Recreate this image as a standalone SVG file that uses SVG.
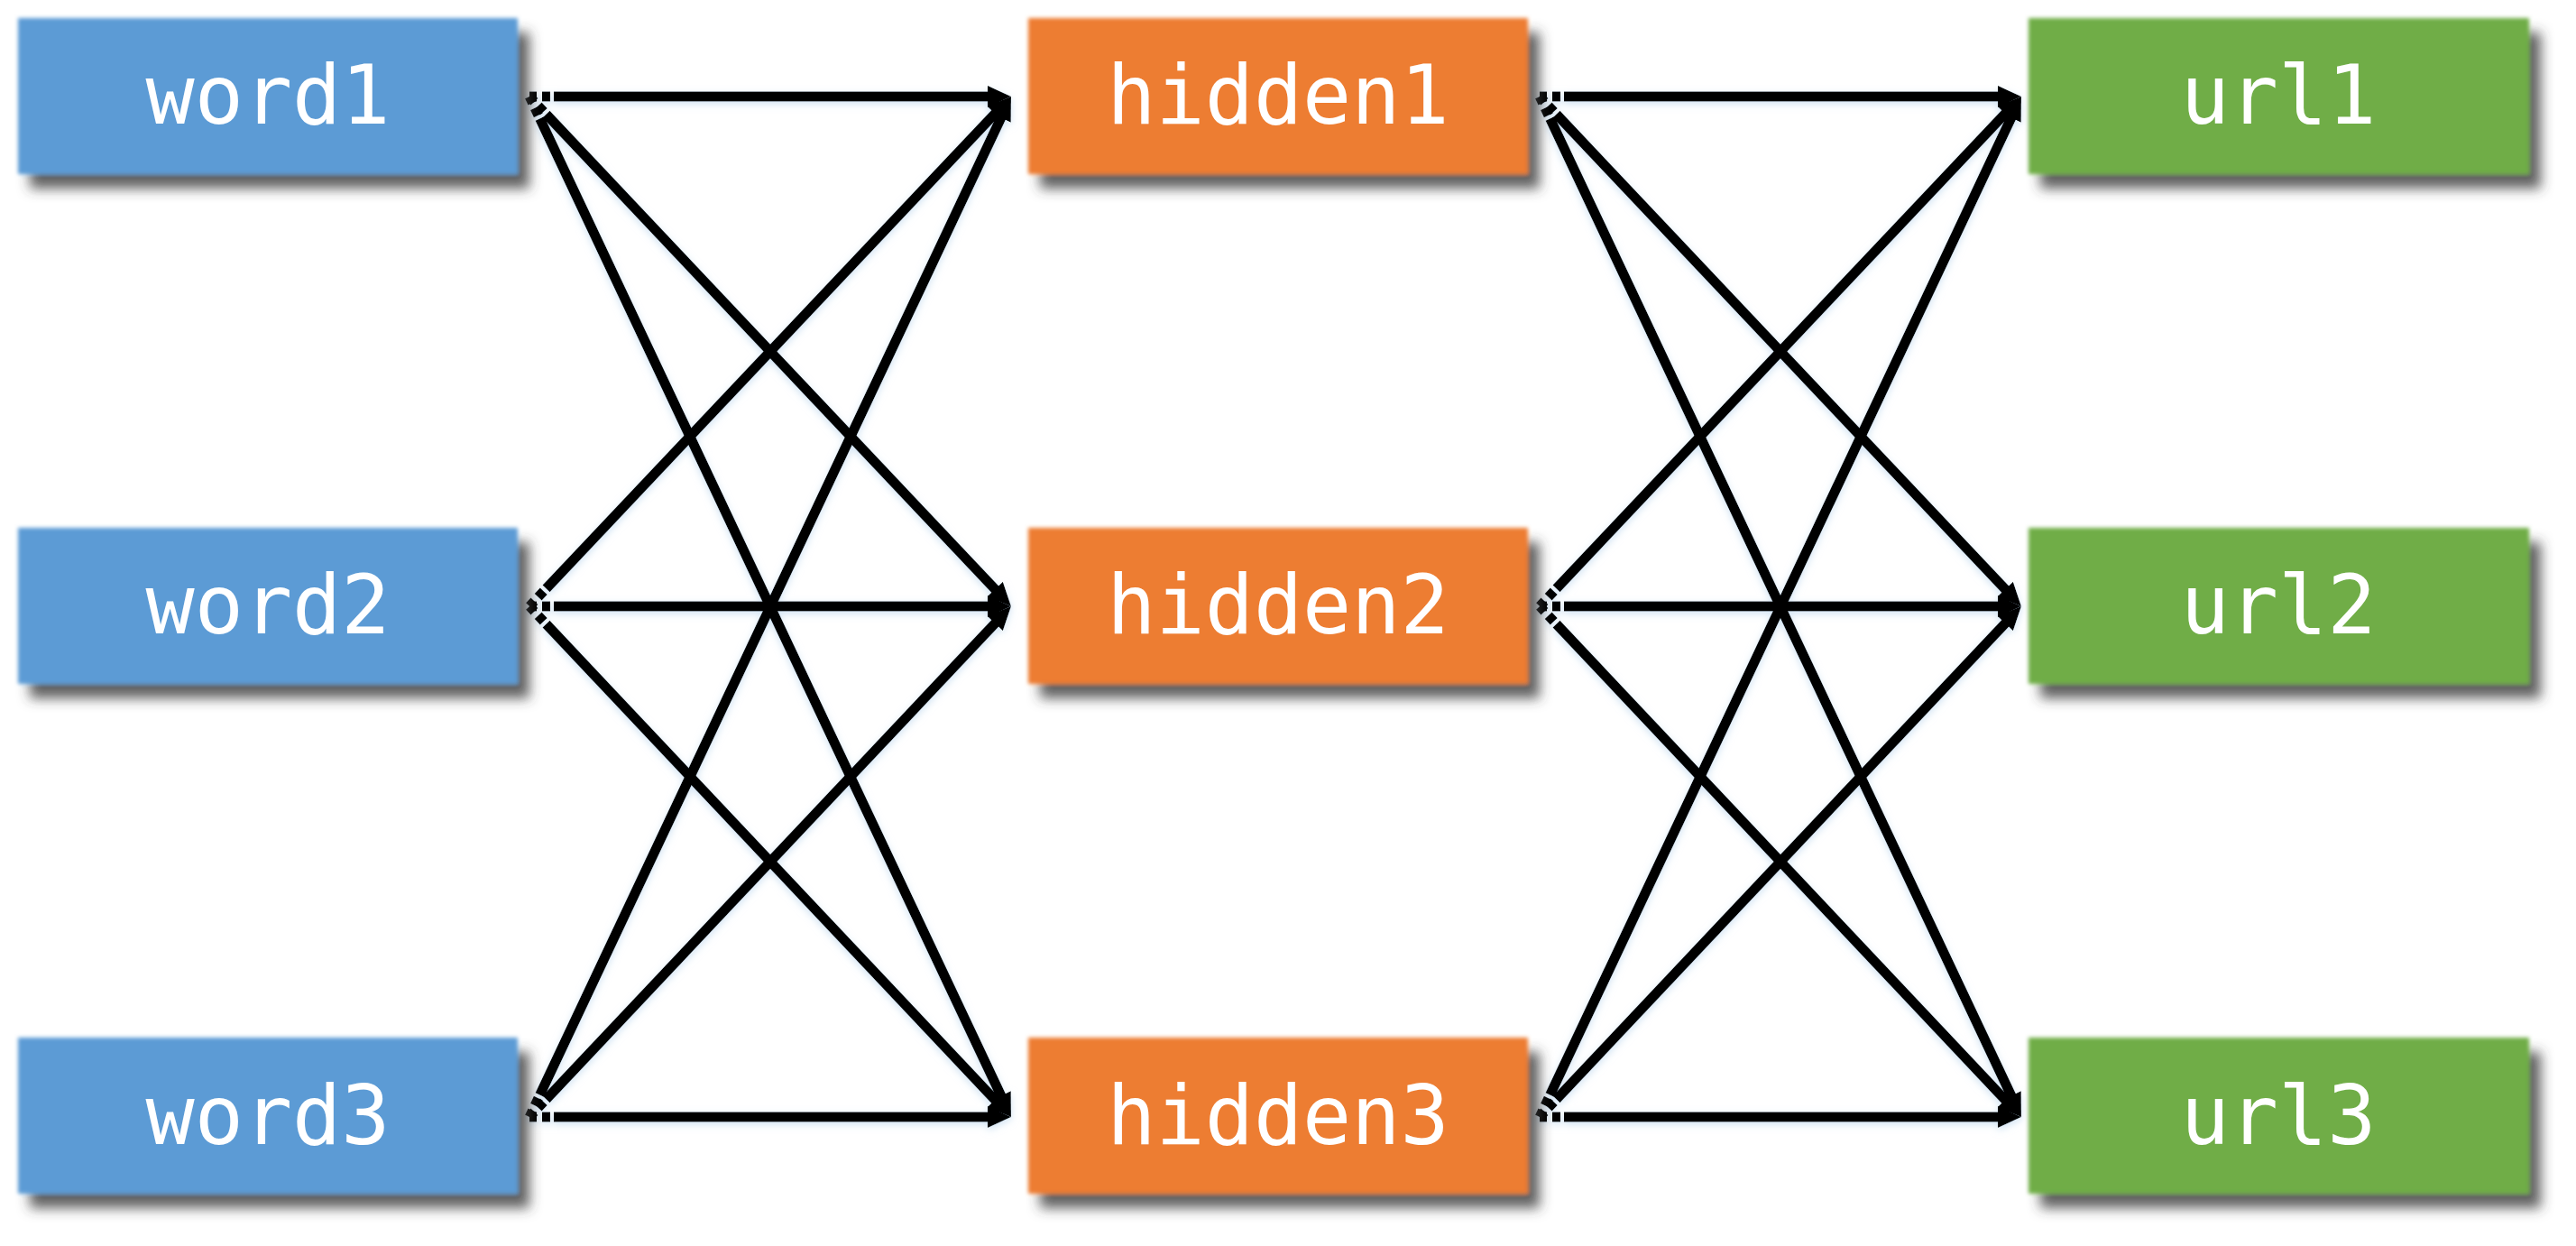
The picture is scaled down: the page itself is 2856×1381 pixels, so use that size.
<svg xmlns="http://www.w3.org/2000/svg" width="2856" height="1381" viewBox="0 0 2856 1381">
<style>
.box{filter:url(#sh)}
.word{fill:#5B9BD5}
.hid{fill:#ED7D31}
.url{fill:#70AD47}
.lbl{font-family:"DejaVu Sans Mono","Liberation Mono",monospace;font-size:90px;fill:#ffffff;text-anchor:middle}
.c{stroke:#000;stroke-width:11;fill:none;marker-end:url(#ah);stroke-dasharray:8 6 9 4 3000}
</style>
<defs>
<filter id="sh" x="-10%" y="-25%" width="130%" height="160%">
<feGaussianBlur in="SourceGraphic" stdDeviation="2" result="soft"/>
<feGaussianBlur in="SourceAlpha" stdDeviation="7" result="b"/>
<feOffset in="b" dx="13" dy="16" result="o"/>
<feFlood flood-color="#3a3a3a" flood-opacity="0.8"/>
<feComposite in2="o" operator="in" result="s"/>
<feMerge><feMergeNode in="s"/><feMergeNode in="soft"/></feMerge>
</filter>
<filter id="glow" x="-10%" y="-10%" width="120%" height="120%">
<feGaussianBlur in="SourceAlpha" stdDeviation="4" result="b"/>
<feOffset in="b" dx="0" dy="3" result="o"/>
<feFlood flood-color="#bdd7ee" flood-opacity="0.7"/>
<feComposite in2="o" operator="in" result="g"/>
<feMerge><feMergeNode in="g"/><feMergeNode in="SourceGraphic"/></feMerge>
</filter>
<marker id="ah" markerUnits="userSpaceOnUse" viewBox="0 0 26 24" markerWidth="26" markerHeight="24" refX="1" refY="12" orient="auto">
<path d="M0,0 L26,12 L0,24 z" fill="#000"/>
</marker>
</defs>
<rect width="2856" height="1381" fill="#ffffff"/>
<g id="connectors" filter="url(#glow)">
<path class="c" d="M587,107 L1096,107"/>
<path class="c" d="M587,107 L1103.8,653.8"/>
<path class="c" d="M587,107 L1110.3,1215.4"/>
<path class="c" d="M587,672 L1103.8,125.2"/>
<path class="c" d="M587,672 L1096,672"/>
<path class="c" d="M587,672 L1103.8,1219.8"/>
<path class="c" d="M587,1238 L1110.3,129.6"/>
<path class="c" d="M587,1238 L1103.8,690.2"/>
<path class="c" d="M587,1238 L1096,1238"/>
<path class="c" d="M1707,107 L2216,107"/>
<path class="c" d="M1707,107 L2223.8,653.8"/>
<path class="c" d="M1707,107 L2230.3,1215.4"/>
<path class="c" d="M1707,672 L2223.8,125.2"/>
<path class="c" d="M1707,672 L2216,672"/>
<path class="c" d="M1707,672 L2223.8,1219.8"/>
<path class="c" d="M1707,1238 L2230.3,129.6"/>
<path class="c" d="M1707,1238 L2223.8,690.2"/>
<path class="c" d="M1707,1238 L2216,1238"/>
</g>
<g id="word1"><rect class="box word" x="20" y="20" width="554" height="173"/><text class="lbl" x="297" y="137">word1</text></g>
<g id="word2"><rect class="box word" x="20" y="585" width="554" height="173"/><text class="lbl" x="297" y="702">word2</text></g>
<g id="word3"><rect class="box word" x="20" y="1150" width="554" height="173"/><text class="lbl" x="297" y="1268">word3</text></g>
<g id="hidden1"><rect class="box hid" x="1140" y="20" width="554" height="173"/><text class="lbl" x="1417" y="137">hidden1</text></g>
<g id="hidden2"><rect class="box hid" x="1140" y="585" width="554" height="173"/><text class="lbl" x="1417" y="702">hidden2</text></g>
<g id="hidden3"><rect class="box hid" x="1140" y="1150" width="554" height="173"/><text class="lbl" x="1417" y="1268">hidden3</text></g>
<g id="url1"><rect class="box url" x="2249" y="20" width="555" height="173"/><text class="lbl" x="2526" y="137">url1</text></g>
<g id="url2"><rect class="box url" x="2249" y="585" width="555" height="173"/><text class="lbl" x="2526" y="702">url2</text></g>
<g id="url3"><rect class="box url" x="2249" y="1150" width="555" height="173"/><text class="lbl" x="2526" y="1268">url3</text></g>
</svg>
